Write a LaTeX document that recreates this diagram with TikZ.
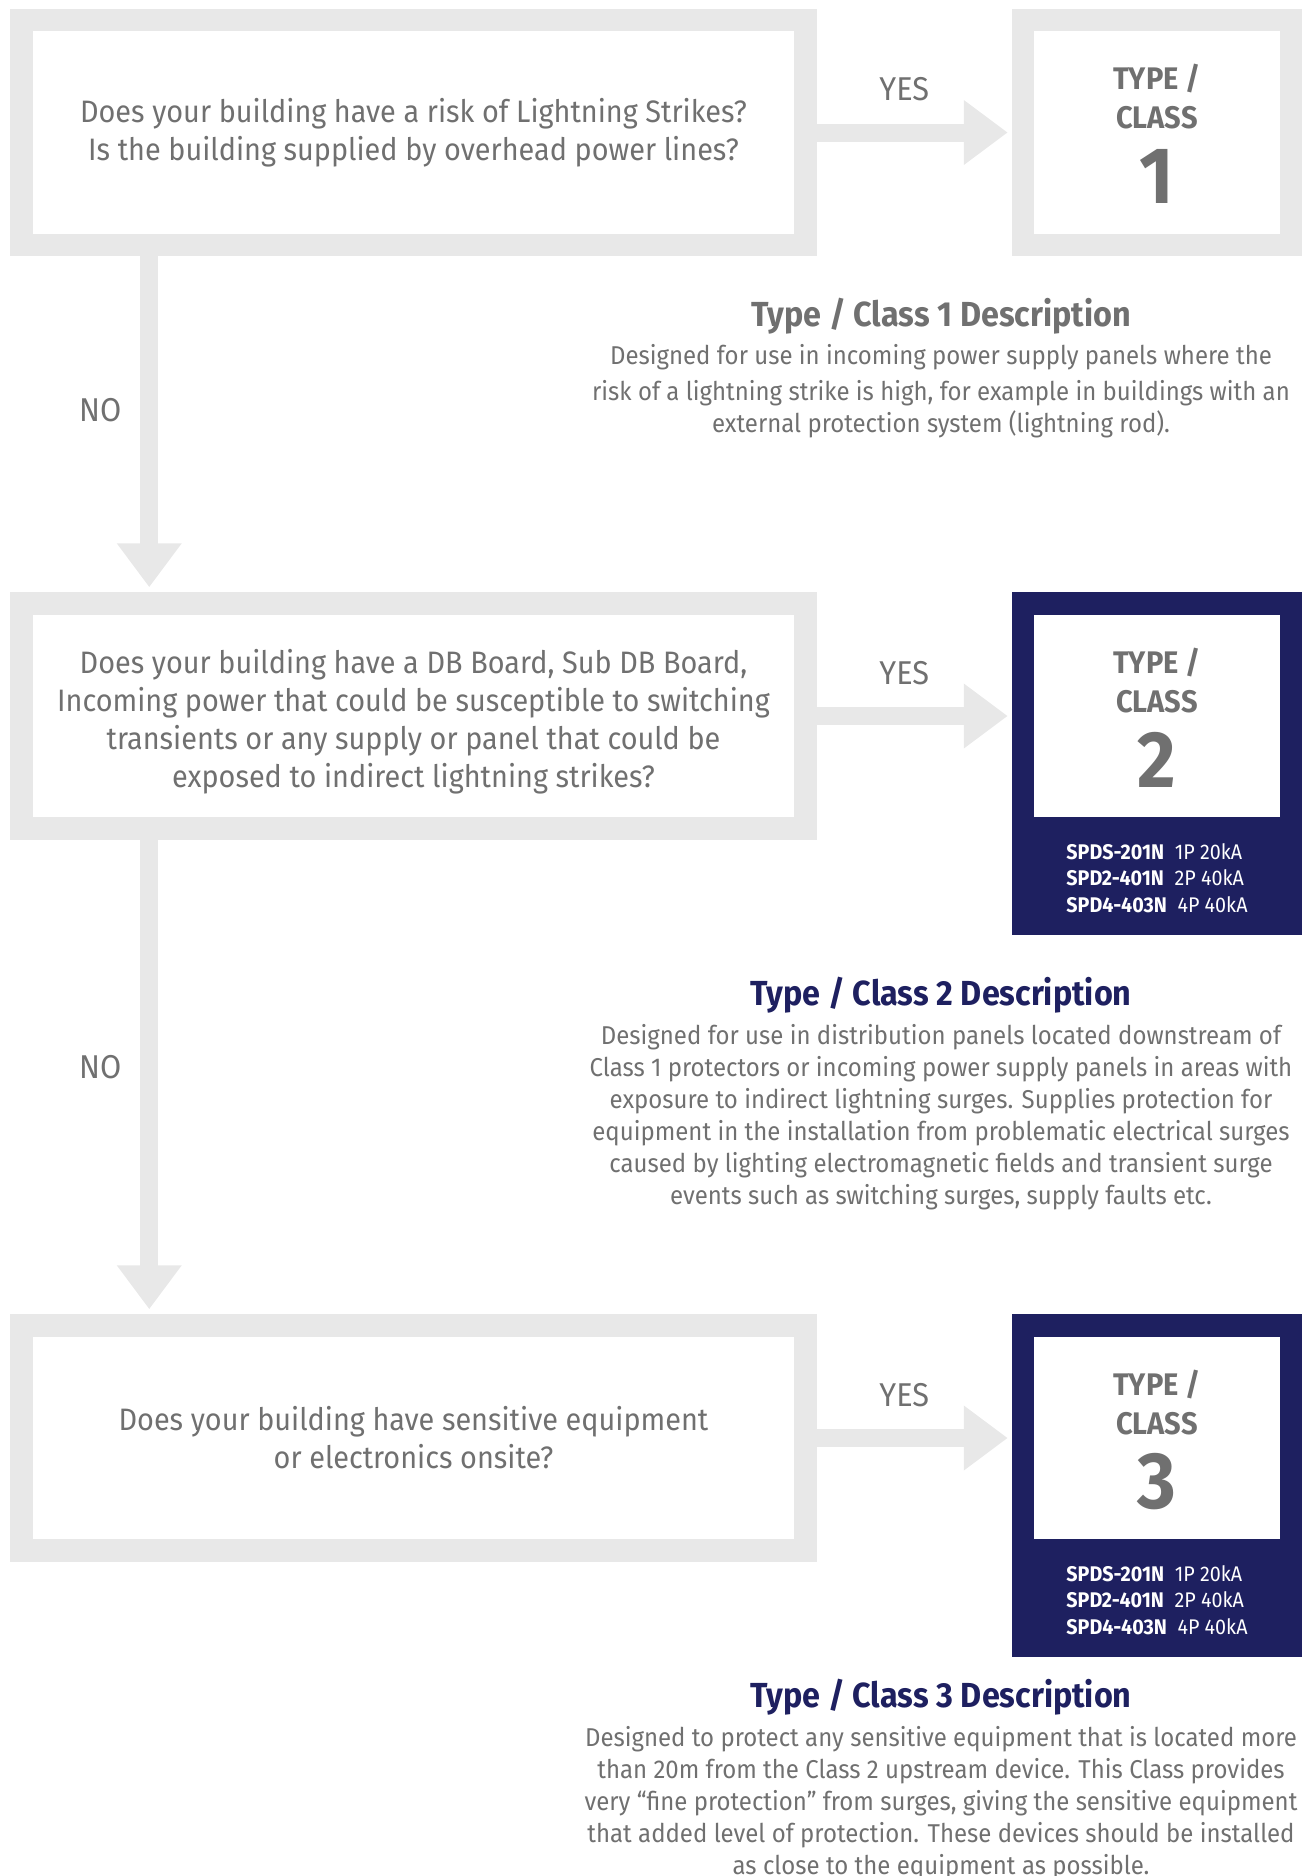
\documentclass[tikz,border=0pt]{standalone}
\usepackage{fontspec}
\setmainfont{Fira Sans}[FakeStretch=0.93]
\usetikzlibrary{positioning,arrows.meta}

\definecolor{boxgray}{RGB}{232,232,232}
\definecolor{txtgray}{RGB}{112,112,112}
\definecolor{navy}{RGB}{30,32,96}

\tikzset{
  question/.style={draw=boxgray, fill=white, line width=11.25pt, minimum width=392pt,
    minimum height=112.5pt, inner sep=0pt, align=center, text=txtgray,
    font=\fontsize{15.5}{19}\selectfont},
  typebox/.style={draw=#1, fill=white, line width=11.25pt, minimum width=134pt,
    minimum height=112.5pt, inner sep=0pt},
  typetxt/.style={align=center, text=txtgray, inner sep=0pt,
    font=\fontsize{15.6}{19.5}\selectfont\bfseries},
  classnum/.style={text=txtgray, inner sep=0pt, font=\fontsize{40}{40}\selectfont\bfseries},
  parts/.style={fill=navy, minimum width=145pt, minimum height=57.5pt, inner sep=0pt,
    align=left, text=white, font=\fontsize{10.6}{13.25}\selectfont},
  flow/.style={draw=boxgray, line width=9pt, -{Triangle[length=22pt,width=31pt]}},
  yeslbl/.style={text=txtgray, font=\fontsize{16.5}{17}\selectfont, yshift=21.5pt, xshift=-5pt},
  nolbl/.style={text=txtgray, font=\fontsize{16.5}{17}\selectfont, xshift=-24.5pt},
  desctitle/.style={text=#1, font=\fontsize{17.4}{20}\selectfont\bfseries, inner sep=0pt},
  descbody/.style={text=txtgray, align=center, inner sep=0pt,
    font=\fontsize{12.9}{16}\selectfont}
}

\begin{document}
\begin{tikzpicture}[x=0.5pt, y=-0.5pt]
  \useasboundingbox (0,0) rectangle (1303,1876);

  % questions
  \node[question] (q1) at (413.5,132.5) {Does your building have a risk of Lightning Strikes?\\
    Is the building supplied by overhead power lines?};
  \node[question] (q2) at (413.5,716) {\rule{0pt}{17.6pt}Does your building have a DB Board, Sub DB Board,\\
    Incoming power that could be susceptible to switching\\
    transients or any supply or panel that could be\\
    exposed to indirect lightning strikes?};
  \node[question] (q3) at (413.5,1438) {Does your building have sensitive equipment\\
    or electronics onsite?};

  % type boxes
  \node[parts, anchor=north] (p2) at (1157,820) {\textbf{SPDS-201N}\enspace 1P 20kA\\
    \textbf{SPD2-401N}\enspace 2P 40kA\\ \textbf{SPD4-403N}\enspace 4P 40kA};
  \node[parts, anchor=north] (p3) at (1157,1542) {\textbf{SPDS-201N}\enspace 1P 20kA\\
    \textbf{SPD2-401N}\enspace 2P 40kA\\ \textbf{SPD4-403N}\enspace 4P 40kA};
  \node[typebox=boxgray] (t1) at (1157,132.5) {};
  \node[typebox=navy] (t2) at (1157,716) {};
  \node[typebox=navy] (t3) at (1157,1438) {};

  \node[typetxt] (t1a) at ([yshift=17.75pt]t1.center) {TYPE /\\CLASS};
  \node[classnum] (t1n) at ([yshift=-22pt]t1.center) {1};
  \node[typetxt] (t2a) at ([yshift=17.75pt]t2.center) {TYPE /\\CLASS};
  \node[classnum] (t2n) at ([yshift=-22pt]t2.center) {2};
  \node[typetxt] (t3a) at ([yshift=17.75pt]t3.center) {TYPE /\\CLASS};
  \node[classnum] (t3n) at ([yshift=-22pt]t3.center) {3};

  % yes / no arrows
  \draw[flow, shorten >=2pt] (q1.east) -- node[yeslbl] {YES} (t1.west);
  \draw[flow, shorten >=2pt] (q2.east) -- node[yeslbl] {YES} (t2.west);
  \draw[flow, shorten >=2pt] (q3.east) -- node[yeslbl] {YES} (t3.west);
  \draw[flow, shorten >=2.5pt] ([xshift=69.5pt]q1.south west) -- node[nolbl, yshift=7pt] {NO}
    ([xshift=69.5pt]q2.north west);
  \draw[flow, shorten >=2.5pt] ([xshift=69.5pt]q2.south west) -- node[nolbl, yshift=5pt] {NO}
    ([xshift=69.5pt]q3.north west);

  % descriptions
  \node[desctitle=txtgray] (d1) at (941,316) {Type / Class 1 Description};
  \node[descbody, below=5pt of d1] (d1b) {Designed for use in incoming power supply panels where the\\[2pt]
    risk of a lightning strike is high, for example in buildings with an\\
    external protection system (lightning rod).};
  \node[desctitle=navy] (d2) at (941,995) {Type / Class 2 Description};
  \node[descbody, below=5pt of d2] (d2b) {Designed for use in distribution panels located downstream of\\
    Class 1 protectors or incoming power supply panels in areas with\\
    exposure to indirect lightning surges. Supplies protection for\\
    equipment in the installation from problematic electrical surges\\
    caused by lighting electromagnetic fields and transient surge\\
    events such as switching surges, supply faults etc.};
  \node[desctitle=navy] (d3) at (941,1697) {Type / Class 3 Description};
  \node[descbody, below=5pt of d3] (d3b) {Designed to protect any sensitive equipment that is located more\\
    than 20m from the Class 2 upstream device. This Class provides\\
    very “fine protection” from surges, giving the sensitive equipment\\
    that added level of protection. These devices should be installed\\
    as close to the equipment as possible.};
\end{tikzpicture}
\end{document}
